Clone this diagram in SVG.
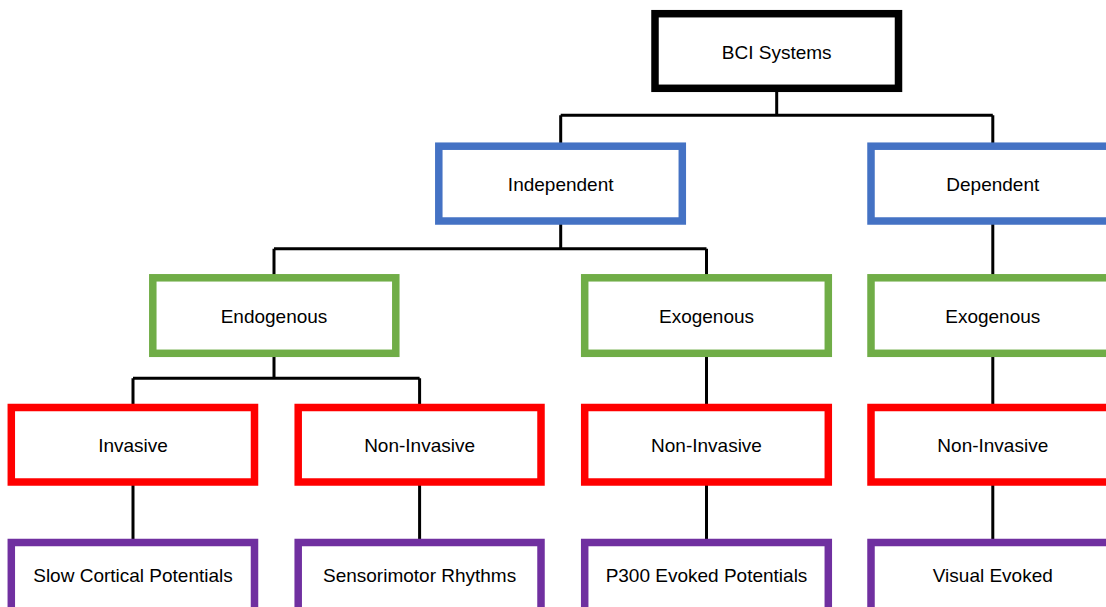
<svg xmlns="http://www.w3.org/2000/svg" width="1106" height="607" viewBox="0 0 1106 607">
<style>
.box{fill:#fff;stroke-width:7.5}
.k{stroke:#000}
.b{stroke:#4472C4}
.g{stroke:#70AD47}
.r{stroke:#FF0000}
.p{stroke:#7030A0}
.t{font-family:"Liberation Sans",Arial,sans-serif;font-size:19px;fill:#000;text-anchor:middle}
.c{fill:none;stroke:#000;stroke-width:3}
</style>
<rect width="1106" height="607" fill="#fff"/>
<g id="connectors">
<path class="c" d="M776.7 88.3V115.3M560.7 115.3H992.8M560.7 115.3V146.2M992.8 115.3V146.2"/>
<path class="c" d="M560.7 221V248.7M274 248.7H706.5M274 248.7V277.8M706.5 248.7V277.8"/>
<path class="c" d="M992.8 221V277.8"/>
<path class="c" d="M274 353.3V378.3M133 378.3H419.6M133 378.3V407.5M419.6 378.3V407.5"/>
<path class="c" d="M706.5 353.3V407.5M992.8 353.3V407.5"/>
<path class="c" d="M133 482V542.5M419.6 482V542.5M706.5 482V542.5M992.8 482V542.5"/>
</g>
<g id="bci"><rect class="box k" x="655" y="13.7" width="243.5" height="74.6"/><text class="t" x="776.7" y="58.5">BCI Systems</text></g>
<g id="independent"><rect class="box b" x="438.8" y="146.2" width="243.5" height="74.8"/><text class="t" x="560.7" y="190.5">Independent</text></g>
<g id="dependent"><rect class="box b" x="871" y="146.2" width="243.5" height="74.8"/><text class="t" x="992.8" y="190.5">Dependent</text></g>
<g id="endogenous"><rect class="box g" x="152.8" y="277.8" width="243" height="75.5"/><text class="t" x="274" y="322.5">Endogenous</text></g>
<g id="exogenous1"><rect class="box g" x="584.7" y="277.8" width="243.6" height="75.5"/><text class="t" x="706.5" y="322.5">Exogenous</text></g>
<g id="exogenous2"><rect class="box g" x="871" y="277.8" width="243.5" height="75.5"/><text class="t" x="992.8" y="322.5">Exogenous</text></g>
<g id="invasive"><rect class="box r" x="11.3" y="407.5" width="243.2" height="74.5"/><text class="t" x="133" y="451.7">Invasive</text></g>
<g id="noninvasive1"><rect class="box r" x="298.2" y="407.5" width="242.8" height="74.5"/><text class="t" x="419.6" y="451.7">Non-Invasive</text></g>
<g id="noninvasive2"><rect class="box r" x="584.7" y="407.5" width="243.6" height="74.5"/><text class="t" x="706.5" y="451.7">Non-Invasive</text></g>
<g id="noninvasive3"><rect class="box r" x="871" y="407.5" width="243.5" height="74.5"/><text class="t" x="992.8" y="451.7">Non-Invasive</text></g>
<g id="slow"><rect class="box p" x="11.3" y="542.5" width="243.2" height="75"/><text class="t" x="133" y="582">Slow Cortical Potentials</text></g>
<g id="smr"><rect class="box p" x="298.2" y="542.5" width="242.8" height="75"/><text class="t" x="419.6" y="582">Sensorimotor Rhythms</text></g>
<g id="p300"><rect class="box p" x="584.7" y="542.5" width="243.6" height="75"/><text class="t" x="706.5" y="582">P300 Evoked Potentials</text></g>
<g id="visual"><rect class="box p" x="871" y="542.5" width="243.5" height="75"/><text class="t" x="992.8" y="582">Visual Evoked</text></g>
</svg>
